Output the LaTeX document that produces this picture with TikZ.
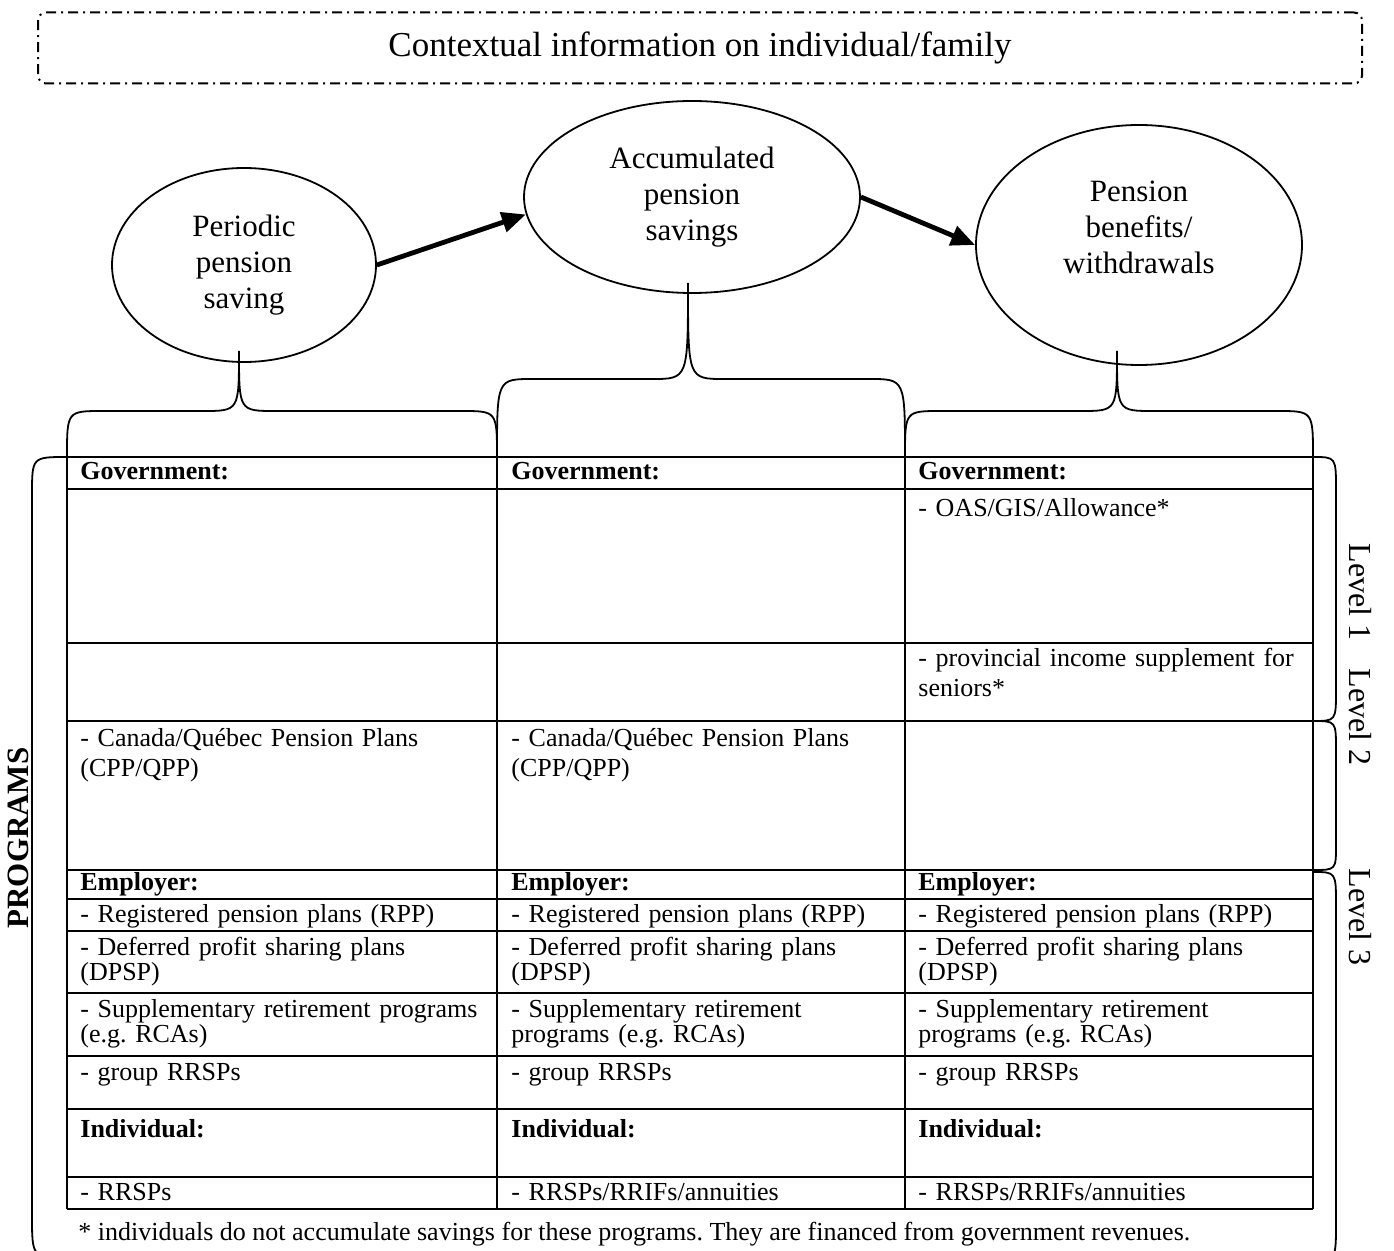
\documentclass[tikz,border=0pt]{standalone}
\usepackage{fontspec}
\setmainfont{Liberation Serif}
\usepackage{tikz}
\usetikzlibrary{positioning, arrows.meta, calc, shapes.geometric}
\frenchspacing

\newcommand{\cellfont}{\fontsize{13}{11.5}\selectfont}
\newcommand{\bubblefont}{\fontsize{15.5}{18}\selectfont}
\newcommand{\levelfont}{\fontsize{16}{18}\selectfont}

% brace over one column: left x, right x, tip x, foot y, shoulder y, tip y
\newcommand{\capbrace}[6]{%
  \draw[brace line] (#1,#4) .. controls (#1,#5) .. (#1+36,#5)
    -- (#3-36,#5) .. controls (#3,#5) .. (#3,#6)
    .. controls (#3,#5) .. (#3+36,#5)
    -- (#2-36,#5) .. controls (#2,#5) .. (#2,#4);}

\tikzset{
  cell/.style={anchor=base west, inner sep=0pt, text width=200pt, align=left, font=\cellfont},
  headcell/.style={cell, font=\cellfont\bfseries},
  widecell/.style={cell, font=\fontsize{13}{15}\selectfont},
  bubble/.style={ellipse, draw, line width=0.9pt, inner sep=0pt, align=center, font=\bubblefont},
  flow/.style={-{Triangle[length=12pt,width=10pt]}, line width=2.4pt},
  bold rule/.style={line width=1.4pt},
  fine rule/.style={line width=0.7pt},
  brace line/.style={line width=0.9pt},
  ctxbox/.style={draw, rounded corners=4pt, line width=1pt,
    dash pattern=on 5pt off 2.5pt on 1pt off 2.5pt,
    minimum width=662pt, minimum height=35.5pt, font=\fontsize{17.5}{20}\selectfont},
  levelnote/.style={rotate=-90, inner sep=0pt, font=\levelfont},
}

\begin{document}
\begin{tikzpicture}[x=0.5pt, y=-0.5pt]
  \useasboundingbox (0,0) rectangle (1394,1251);
  \clip (0,0) rectangle (1394,1251);

  % context box
  \node[ctxbox] (ctx) at (700,48) {Contextual information on individual/family};

  % the three stages
  \node[bubble, minimum width=132pt, minimum height=97pt] (periodic) at (244,265) {Periodic\\pension\\saving};
  \node[bubble, minimum width=168pt, minimum height=96pt] (accum) at (692,197) {Accumulated\\pension\\savings};
  \node[bubble, minimum width=163pt, minimum height=120pt] (payout) at (1139,245) {Pension\\benefits/\\withdrawals\\\mbox{}};

  \draw[flow] (periodic.east) -- (accum.186);
  \draw[flow] (accum.east) -- (payout.west);

  % braces down to the columns
  \capbrace{67}{497}{239}{457}{411}{351}
  \capbrace{497}{905}{688}{457}{379}{283}
  \capbrace{905}{1313}{1117}{457}{411}{351}

  % table rules
  \draw[bold rule] (67,457) -- (1313,457);
  \draw[bold rule] (67,489) -- (1313,489);
  \draw[fine rule] (67,643) -- (1313,643);
  \draw[bold rule] (67,721) -- (1313,721);
  \draw[bold rule] (67,870) -- (1313,870);
  \foreach \y in {899,931,993,1056,1109,1177}
    \draw[fine rule] (67,\y) -- (1313,\y);
  \draw[bold rule] (67,1209) -- (1313,1209);
  \draw[bold rule] (67,457) -- (67,1209);
  \draw[bold rule] (1313,457) -- (1313,1209);
  \draw[fine rule] (497,457) -- (497,1209);
  \draw[fine rule] (905,457) -- (905,1209);

  % government
  \node[headcell] (gov1) at (80,480) {Government:};
  \node[headcell] (gov2) at (511,480) {Government:};
  \node[headcell] (gov3) at (918,480) {Government:};
  \node[cell] (oas) at (918,517) {- OAS/GIS/Allowance*};
  \node[widecell] (prov) at (918,667) {- provincial income supplement for\\seniors*};
  \node[widecell] (cpp1) at (80,747) {- Canada/Québec Pension Plans\\(CPP/QPP)};
  \node[widecell] (cpp2) at (511,747) {- Canada/Québec Pension Plans\\(CPP/QPP)};

  % employer
  \node[headcell] (emp1) at (80,891) {Employer:};
  \node[headcell] (emp2) at (511,891) {Employer:};
  \node[headcell] (emp3) at (918,891) {Employer:};
  \node[cell] (rpp1) at (80,922) {- Registered pension plans (RPP)};
  \node[cell] (rpp2) at (511,922) {- Registered pension plans (RPP)};
  \node[cell] (rpp3) at (918,922) {- Registered pension plans (RPP)};
  \node[cell] (dpsp1) at (80,955) {- Deferred profit sharing plans\\(DPSP)};
  \node[cell] (dpsp2) at (511,955) {- Deferred profit sharing plans\\(DPSP)};
  \node[cell] (dpsp3) at (918,955) {- Deferred profit sharing plans\\(DPSP)};
  \node[cell] (supp1) at (80,1017) {- Supplementary retirement programs\\(e.g. RCAs)};
  \node[cell] (supp2) at (511,1017) {- Supplementary retirement\\programs (e.g. RCAs)};
  \node[cell] (supp3) at (918,1017) {- Supplementary retirement\\programs (e.g. RCAs)};
  \node[cell] (grp1) at (80,1080) {- group RRSPs};
  \node[cell] (grp2) at (511,1080) {- group RRSPs};
  \node[cell] (grp3) at (918,1080) {- group RRSPs};

  % individual
  \node[headcell] (ind1) at (80,1137) {Individual:};
  \node[headcell] (ind2) at (511,1137) {Individual:};
  \node[headcell] (ind3) at (918,1137) {Individual:};
  \node[cell] (rrsp1) at (80,1200) {- RRSPs};
  \node[cell] (rrsp2) at (511,1200) {- RRSPs/RRIFs/annuities};
  \node[cell] (rrsp3) at (918,1200) {- RRSPs/RRIFs/annuities};

  % level brackets
  \draw[brace line] (1313,457) .. controls (1336,457) .. (1336,490)
    -- (1336,690) .. controls (1336,721) .. (1313,721);
  \draw[brace line] (1313,721) .. controls (1336,721) .. (1336,750)
    -- (1336,845) .. controls (1336,870) .. (1313,870);
  \draw[brace line] (1313,872) .. controls (1336,872) .. (1336,905)
    -- (1336,1225) .. controls (1336,1262) .. (1300,1262);
  \node[levelnote] (lvl1) at (1360,592) {Level 1};
  \node[levelnote] (lvl2) at (1360,717) {Level 2};
  \node[levelnote] (lvl3) at (1360,917) {Level 3};

  % programs bracket
  \draw[brace line] (67,457) .. controls (32,457) .. (32,495)
    -- (32,1215) .. controls (32,1258) .. (70,1258);
  \node[rotate=90, inner sep=0pt, font=\fontsize{15.5}{18}\selectfont\bfseries] (prog) at (18,838) {PROGRAMS};

  % footnote
  \node[anchor=base west, inner sep=0pt, font=\cellfont] (note) at (78,1240)
    {* individuals do not accumulate savings for these programs. They are financed from government revenues.};
\end{tikzpicture}
\end{document}
